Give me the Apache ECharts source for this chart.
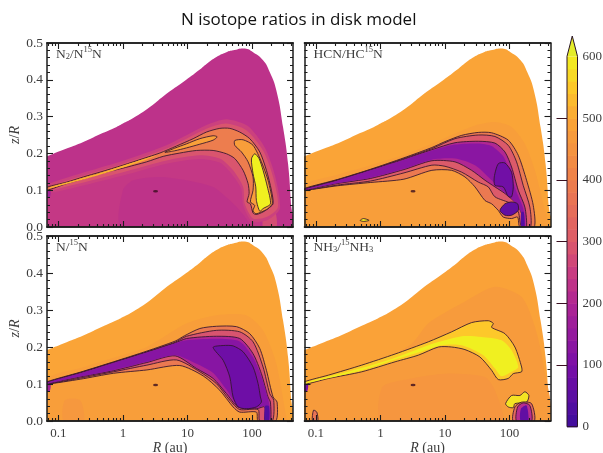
<!DOCTYPE html>
<html><head><meta charset="utf-8">
<style>html,body{margin:0;padding:0;background:#fff}#c{width:603px;height:453px;filter:blur(0.45px)}</style>
<script src="https://cdn.jsdelivr.net/npm/echarts@6/dist/echarts.min.js"></script>
</head><body><div id="c"></div>
<script>
// All outlines are [log10(R/au), z/R].
const xMajor = [0.1, 1, 10, 100];
const xMinor = [0.07,0.08,0.09,0.2,0.3,0.4,0.5,0.6,0.7,0.8,0.9,2,3,4,5,6,7,8,9,20,30,40,50,60,70,80,90,200,300,400];
const barLevels = [0,20,40,60,80,100,120,140,160,180,200,220,240,260,280,300,320,340,360,380,400,420,440,460,480,500,520,540,560,580,600];
const palette = [[0,'#3D0C9C'],[100,'#7A0FA8'],[200,'#AE2594'],[250,'#C83C82'],[300,'#DC5A6A'],[400,'#EE7F4C'],[500,'#FBA636'],[550,'#FDC82A'],[600,'#F0F020']];

const disk = [[-1.4,.176],[-1.175,.192],[-.871,.213],[-.613,.231],[-.356,.252],[-.098,.272],[0,.281],[.16,.296],[.418,.326],[.675,.362],[.933,.394],[1.191,.428],[1.294,.443],[1.448,.462],[1.603,.475],[1.706,.48],[1.887,.485],[2.015,.475],[2.17,.453],[2.273,.421],[2.376,.371],[2.479,.272],[2.557,.172],[2.608,.054],[2.65,-.04],[-1.4,-.04]];
const darkSpot = [3.2, 0.097];

// N2 / N15N
const n2Lower = [[-1.175,.105],[-.6,.135],[0,.165],[.6,.2],[1.2,.215],[1.6,.21],[1.9,.17],[2,.12],[2.05,.06],[2.1,0],[-1.175,0]];
const n2Centre = [[-.02,0],[0,.1],[.16,.127],[.572,.136],[.985,.127],[1.397,.109],[1.603,.081],[1.809,.045],[1.964,0]];
const n2Foot = [[2.17,0],[2.2,.04],[2.35,.045],[2.376,0]];
const n2Glow = [[-1.175,.115],[0,.18],[.675,.222],[1.294,.277],[1.6,.293],[1.93,.275],[2.2,.215],[2.36,.136],[2.43,.05],[2.25,.02],[2,.015],[1.86,.06],[1.83,.105],[1.68,.145],[1.5,.175],[1.19,.185],[.675,.172],[0,.14],[-1.175,.092]];
const n2Halo = [[-1.175,.109],[0,.172],[.675,.213],[1.294,.267],[1.6,.281],[1.91,.263],[2.17,.208],[2.325,.136],[2.4,.054],[2.22,.027],[2.015,.023],[1.887,.063],[1.861,.109],[1.706,.154],[1.5,.186],[1.19,.195],[.675,.181],[0,.149],[-1.175,.098]];
const n2Outer = [[-1.175,.108],[-.871,.122],[-.613,.136],[-.356,.149],[0,.168],[.314,.186],[.572,.201],[.83,.22],[1.088,.24],[1.294,.258],[1.5,.268],[1.655,.268],[1.809,.258],[1.964,.24],[2.119,.204],[2.222,.154],[2.299,.1],[2.325,.063],[2.247,.05],[2.17,.041],[2.067,.034],[2.015,.038],[1.974,.063],[1.923,.068],[1.954,.091],[1.938,.118],[1.861,.154],[1.732,.186],[1.603,.199],[1.397,.208],[1.139,.208],[.881,.201],[.624,.192],[.366,.177],[0,.16],[-.356,.145],[-.613,.131],[-.871,.118],[-1.175,.1]];
const n2Wedge = [[.65,.203],[.8,.214],[.985,.226],[1.191,.24],[1.397,.248],[1.459,.245],[1.397,.236],[1.191,.225],[.985,.215],[.8,.207]];
const n2Thread = [[-1.129,.108],[-.613,.134],[-.201,.155],[.314,.184],[.521,.195],[.314,.18],[-.201,.15],[-.613,.129],[-1.129,.105]];
const n2Arc = [[1.732,.235],[1.861,.237],[2.015,.222],[2.144,.177],[2.247,.127],[2.314,.065],[2.247,.05],[2.144,.041],[2.057,.036],[2.015,.045],[2.041,.059],[1.974,.068],[2.015,.1],[2.015,.136],[1.938,.177],[1.835,.204],[1.732,.222]];
const n2Core = [[1.99,.185],[2.041,.199],[2.108,.186],[2.17,.154],[2.237,.109],[2.284,.063],[2.17,.05],[2.119,.043],[2.067,.072],[2.057,.109],[2.015,.145]];

// HCN / HC15N
const hcnBand = [[-1.175,.112],[-.667,.142],[-.151,.168],[.364,.196],[.797,.226],[1.155,.254],[1.464,.276],[1.773,.285],[2.031,.272],[2.237,.226],[2.392,.154],[2.521,.063],[2.572,0],[-1.175,0]];
const hcnOuter = [[-1.175,.105],[-.667,.129],[-.151,.157],[.364,.188],[.797,.216],[1,.232],[1.258,.249],[1.515,.257],[1.722,.256],[1.979,.236],[2.134,.195],[2.263,.127],[2.366,.059],[2.381,0],[2.16,0],[2.124,.027],[2.031,.023],[1.902,.027],[1.825,.045],[1.722,.063],[1.619,.072],[1.464,.109],[1.309,.136],[1.103,.154],[.797,.154],[.364,.13],[-.151,.121],[-.667,.112],[-1.165,.1]];
const hcnSecond = [[-1.165,.104],[-.667,.128],[-.151,.156],[.364,.186],[.797,.213],[1.155,.24],[1.515,.25],[1.773,.246],[1.979,.222],[2.108,.177],[2.211,.113],[2.314,.054],[2.325,0],[2.186,0],[2.134,.041],[2.031,.063],[1.773,.082],[1.67,.109],[1.515,.122],[1.258,.149],[1,.165],[.797,.168],[.364,.147],[-.151,.125],[-.667,.114],[-1.165,.1]];
const hcnThird = [[-1.165,.103],[-.667,.127],[-.151,.155],[.364,.184],[.797,.21],[1.155,.229],[1.515,.233],[1.773,.228],[1.928,.204],[2.031,.163],[2.134,.1],[2.237,.054],[2.263,0],[2.201,0],[2.186,.036],[2.108,.063],[1.928,.091],[1.773,.109],[1.619,.127],[1.412,.154],[1.155,.177],[.797,.18],[.364,.156],[-.151,.132],[-.667,.118],[-1.165,.101]];
const hcnPurple = [[-1.165,.103],[-.667,.126],[-.151,.154],[.364,.183],[.797,.208],[1.155,.224],[1.515,.227],[1.722,.22],[1.902,.192],[2.005,.15],[2.108,.095],[2.211,.05],[2.237,0],[2.201,0],[2.175,.041],[2.031,.077],[1.825,.109],[1.67,.136],[1.464,.168],[1.155,.186],[.797,.183],[.364,.158],[-.151,.134],[-.667,.119],[-1.165,.101]];
const hcnBlobUpper = [[1.763,.136],[1.825,.172],[1.928,.174],[2.031,.149],[2.057,.109],[2.031,.082],[1.979,.083],[1.902,.109],[1.773,.113]];
const hcnBlobLower = [[1.851,.045],[1.928,.063],[2.031,.068],[2.124,.063],[2.134,.045],[2.031,.032],[1.928,.032]];
const hcnColumn = [[2.18,.04],[2.22,.04],[2.23,0],[2.18,0]];
const hcnGreen = [[-.314,.018],[-.263,.023],[-.175,.018],[-.263,.015]];

// N / 15N
const nBand = [[-1.175,.113],[-.66,.143],[-.144,.171],[.371,.2],[.985,.264],[1.448,.286],[1.912,.286],[2.17,.245],[2.376,.155],[2.53,.011],[2.54,0],[-1.175,0]];
const nPatch = [[-.92,0],[-.9,.056],[-.66,.056],[-.61,0]];
const nOuter = [[-1.175,.106],[-.66,.132],[-.144,.16],[.371,.189],[.809,.216],[.95,.23],[1.191,.25],[1.448,.256],[1.758,.255],[1.964,.236],[2.119,.196],[2.222,.137],[2.325,.065],[2.387,.051],[2.366,0],[2.093,0],[2.067,.024],[1.809,.024],[1.706,.038],[1.5,.083],[1.242,.122],[.881,.15],[.371,.138],[-.144,.129],[-.66,.113],[-1.175,.1]];
const nSecond = [[-1.175,.105],[-.66,.131],[-.144,.159],[.371,.187],[.809,.213],[.985,.229],[1.448,.245],[1.809,.241],[2.015,.214],[2.17,.146],[2.273,.074],[2.335,.056],[2.314,0],[2.119,0],[2.093,.031],[1.809,.031],[1.655,.056],[1.448,.101],[1.191,.133],[.83,.165],[.371,.151],[-.144,.133],[-.66,.116],[-1.175,.1]];
const nThird = [[-1.175,.104],[-.66,.13],[-.144,.158],[.371,.186],[.809,.211],[.985,.223],[1.448,.229],[1.809,.223],[2.015,.182],[2.144,.128],[2.247,.065],[2.284,.051],[2.284,0],[2.196,0],[2.196,.038],[2.067,.033],[1.784,.038],[1.603,.074],[1.397,.115],[1.139,.142],[.809,.176],[.371,.158],[-.144,.136],[-.66,.119],[-1.175,.101]];
const nPurple = [[-1.175,.104],[-.66,.129],[-.144,.157],[.371,.185],[.809,.21],[.985,.218],[1.448,.222],[1.809,.215],[2.015,.172],[2.144,.12],[2.247,.06],[2.27,.04],[2.27,0],[2.2,0],[2.19,.04],[2.067,.036],[1.784,.042],[1.603,.085],[1.397,.13],[1.139,.155],[.809,.178],[.371,.16],[-.144,.138],[-.66,.12],[-1.175,.101]];
const nDeep = [[1.397,.199],[1.552,.204],[1.706,.203],[1.861,.187],[2.015,.146],[2.093,.101],[2.129,.065],[2.144,.051],[2.067,.038],[1.912,.033],[1.784,.038],[1.706,.065],[1.655,.119],[1.552,.164]];
const nColumn = [[2.2,.04],[2.26,.04],[2.26,0],[2.2,0]];

// NH3 / 15NH3
const nh3Band = [[-1.175,.097],[-.546,.128],[-.031,.16],[.485,.209],[.742,.264],[1.258,.318],[1.773,.363],[2.186,.336],[2.392,.255],[2.521,.155],[2.572,0],[-1.175,0]];
const nh3Patch = [[.021,0],[.031,.092],[.485,.115],[1,.128],[1.619,.119],[1.773,.083],[1.876,0]];
const nh3Plume = [[-1.175,.106],[-.804,.124],[-.289,.151],[.227,.181],[.742,.214],[1.103,.241],[1.412,.266],[1.67,.271],[1.747,.264],[1.722,.253],[1.928,.236],[2.082,.2],[2.186,.146],[2.186,.133],[2.057,.128],[1.979,.115],[1.825,.112],[1.722,.137],[1.541,.173],[1.309,.193],[1.103,.2],[.897,.2],[.588,.178],[.227,.16],[-.289,.133],[-.804,.115],[-1.175,.099]];
const nh3Core = [[-1.175,.103],[-.289,.143],[.227,.171],[.742,.205],[1.258,.229],[1.567,.227],[1.876,.218],[2.031,.191],[2.134,.146],[2.031,.133],[1.876,.121],[1.773,.142],[1.593,.178],[1.258,.205],[.948,.205],[.588,.185],[.227,.166],[-.289,.137],[-1.175,.101]];
const nh3Blob = [[1.938,.047],[2.031,.069],[2.16,.069],[2.237,.079],[2.299,.069],[2.263,.051],[2.082,.047],[2.057,.036],[1.979,.038]];
const nh3Pink = [[2.057,0],[2.082,.038],[2.186,.051],[2.34,.047],[2.381,0]];
const nh3Magenta = [[2.108,0],[2.124,.038],[2.211,.049],[2.314,.042],[2.34,0]];
const nh3Violet = [[2.17,0],[2.175,.033],[2.263,.042],[2.289,0]];
const nh3Edge = [[-1.052,0],[-1.036,.029],[-.985,.024],[-.969,0]];
const edgeMark = [[-1.175,.08],[-1.13,.082],[-1.12,.098],[-1.175,.1]];

// [outline, ratio value, has contour line]
const n2Layers = [[disk,228,0],[n2Lower,242,0],[n2Centre,230,0],[n2Foot,280,0],[n2Glow,258,0],[n2Halo,292,0],[n2Outer,395,1],[n2Thread,520,0],[n2Wedge,485,1],[n2Arc,480,1],[n2Core,600,1],[edgeMark,180,0]];
const hcnLayers = [[disk,495,0],[hcnBand,480,0],[hcnOuter,385,1],[hcnSecond,300,1],[hcnThird,205,1],[hcnPurple,130,0],[hcnColumn,40,0],[hcnBlobUpper,85,1],[hcnBlobLower,60,1],[hcnGreen,590,1]];
const nLayers = [[disk,495,0],[nBand,480,0],[nPatch,465,0],[nOuter,385,1],[nSecond,290,1],[nThird,200,1],[nPurple,125,0],[nDeep,80,1],[nColumn,35,0],[edgeMark,180,0]];
const nh3Layers = [[disk,490,0],[nh3Band,472,0],[nh3Patch,458,0],[nh3Plume,550,1],[nh3Core,600,0],[nh3Blob,585,1],[nh3Pink,340,1],[nh3Magenta,220,1],[nh3Violet,60,0],[nh3Edge,370,1],[edgeMark,100,0]];

const panels = [
  {layers:n2Layers,  label:'{n|N}{sub|2}{n|/N}{sup|15}{n|N}', l:47, t:43, h:184},
  {layers:hcnLayers, label:'{n|HCN/HC}{sup|15}{n|N}', l:304.5, t:43, h:184},
  {layers:nLayers,   label:'{n|N/}{sup|15}{n|N}', l:47, t:236, h:185},
  {layers:nh3Layers, label:'{n|NH}{sub|3}{n|/}{sup|15}{n|NH}{sub|3}', l:304.5, t:236, h:185}
];
const W = 246, serif = '"Liberation Serif"', ink = '#1c1c1c', txt = '#3c3c3c';

function colorOf(v){
  for(let i=1;i<palette.length;i++){
    if(v<=palette[i][0]){
      const [a,ca]=palette[i-1],[b,cb]=palette[i],f=(v-a)/(b-a);
      const p=c=>[1,3,5].map(k=>parseInt(c.substr(k,2),16));
      const A=p(ca),B=p(cb);
      return 'rgb('+A.map((x,k)=>Math.round(x+(B[k]-x)*f)).join(',')+')';
    }
  }
  return palette[palette.length-1][1];
}
const grid=[],xAxis=[],yAxis=[],series=[],title=[];
const rich={n:{fontFamily:serif,fontSize:13.5,fontWeight:'normal',color:txt,lineHeight:16,verticalAlign:'bottom'},
  sup:{fontFamily:serif,fontSize:8.5,fontWeight:'normal',color:txt,lineHeight:16,verticalAlign:'top',padding:[0,0,6,0]},
  sub:{fontFamily:serif,fontSize:8.5,fontWeight:'normal',color:txt,lineHeight:16,verticalAlign:'bottom',padding:[5,0,0,0]}};

panels.forEach((p,g)=>{
  grid.push({left:p.l,top:p.t,width:W,height:p.h,show:false,outerBoundsMode:'none',containLabel:false});
  const lower=g>=2,left=g%2===0;
  const ax=(pos,vals,len,lab,nameIt)=>({type:'log',gridIndex:g,min:0.0668,max:430,position:pos,z:5,
    axisLine:{show:true,onZero:false,lineStyle:{color:ink,width:1.5}},splitLine:{show:false},
    axisTick:{show:true,inside:true,length:len,customValues:vals,lineStyle:{color:ink,width:1.1}},
    axisLabel:{show:lab,customValues:xMajor,margin:6,fontFamily:serif,fontSize:13,color:txt,formatter:v=>String(v)},
    ...(nameIt?{name:'{i|R} (au)',nameLocation:'middle',nameGap:17,nameTextStyle:{fontFamily:serif,fontSize:14,color:txt,rich:{i:{fontFamily:serif,fontStyle:'italic',fontSize:14,color:txt}}}}:{})});
  xAxis.push(ax('bottom',xMajor,6,lower,lower),ax('top',xMajor,6,false,false),ax('bottom',xMinor,3,false,false),ax('top',xMinor,3,false,false));
  const ay=(pos,lab,nameIt)=>({type:'value',gridIndex:g,min:0,max:0.5,interval:0.1,position:pos,z:5,
    axisLine:{show:true,onZero:false,lineStyle:{color:ink,width:1.5}},splitLine:{show:false},
    axisTick:{show:true,inside:true,length:6,lineStyle:{color:ink,width:1.1}},
    minorTick:{show:true,splitNumber:5,length:3,lineStyle:{color:ink,width:1}},
    axisLabel:{show:lab,margin:4,fontFamily:serif,fontSize:13.5,color:txt,formatter:v=>v.toFixed(1)},
    ...(nameIt?{name:'{i|z}/{i|R}',nameLocation:'middle',nameGap:24,nameRotate:90,nameTextStyle:{fontFamily:serif,fontSize:14,color:txt,rich:{i:{fontFamily:serif,fontStyle:'italic',fontSize:14,color:txt}}}}:{})});
  yAxis.push(ay('left',left,left),ay('right',false,false));
  series.push({type:'custom',coordinateSystem:'cartesian2d',xAxisIndex:4*g,yAxisIndex:2*g,z:2,clip:true,silent:true,
    data:p.layers.map(l=>[10**l[0][0][0],l[0][0][1],l[1]]),
    encode:{x:0,y:1},
    renderItem:(params,api)=>{
      const l=p.layers[params.dataIndex];
      const pts=l[0].map(q=>api.coord([10**q[0],q[1]]));
      return {type:'polygon',shape:{points:pts,smooth:l[0]===disk?0.5:0.25},
        style:{fill:colorOf(l[1]),stroke:l[2]?'rgba(50,20,45,0.85)':null,lineWidth:l[2]?1:0}};
    }});
  series.push({type:'scatter',xAxisIndex:4*g,yAxisIndex:2*g,z:3,silent:true,data:[darkSpot],symbol:'circle',symbolSize:[5,2.5],itemStyle:{color:'#3a0d1e'}});
  title.push({text:p.label,left:p.l+4,top:p.t-3,z:6,textStyle:{rich}});
});

// colour bar
const gb=panels.length;
grid.push({left:567,top:36,width:10.5,height:390.7,show:false,outerBoundsMode:'none',containLabel:false});
xAxis.push({type:'value',gridIndex:gb,min:0,max:1,show:false});
yAxis.push({type:'value',gridIndex:gb,min:0,max:633,position:'right',z:5,
  axisLine:{show:false},splitLine:{show:false},
  axisTick:{show:true,inside:true,length:10.5,customValues:[100,200,300,400,500],lineStyle:{color:'#3a1020',width:1}},
  axisLabel:{show:true,inside:false,margin:5,customValues:[0,100,200,300,400,500,600],fontFamily:serif,fontSize:13,color:txt}});
const barData=barLevels.slice(0,-1).map((v,i)=>[0,v,barLevels[i+1]]);
series.push({type:'custom',coordinateSystem:'cartesian2d',xAxisIndex:4*gb,yAxisIndex:2*gb,z:2,silent:true,clip:false,
  data:barData,encode:{x:0,y:1},
  renderItem:(params,api)=>{
    const a=api.coord([0,api.value(1)]),b=api.coord([1,api.value(2)]);
    return {type:'rect',shape:{x:a[0],y:b[1],width:b[0]-a[0],height:a[1]-b[1]+0.6},style:{fill:colorOf(api.value(1)+10)}};
  }});
series.push({type:'custom',coordinateSystem:'cartesian2d',xAxisIndex:4*gb,yAxisIndex:2*gb,z:3,silent:true,clip:false,
  data:[[0,600]],encode:{x:0,y:1},
  renderItem:(params,api)=>{
    const q=[[0,0],[0,600],[.5,633],[1,600],[1,0]].map(c=>api.coord(c));
    const tip=[[0,600],[.5,633],[1,600]].map(c=>api.coord(c));
    return {type:'group',children:[
      {type:'polygon',shape:{points:tip},style:{fill:'#E4EC2A',stroke:null}},
      {type:'polygon',shape:{points:q},style:{fill:'none',stroke:'#2a1428',lineWidth:1}}]};
  }});
title.push({text:'N isotope ratios in disk model',left:176,top:7,textStyle:{fontFamily:'"Open Sans"',fontSize:17,fontWeight:'normal',color:'#111'}});

const chart=echarts.init(document.getElementById('c'),null,{renderer:'canvas'});
chart.setOption({animation:false,backgroundColor:'#fff',title,grid,xAxis,yAxis,series});
</script></body></html>
